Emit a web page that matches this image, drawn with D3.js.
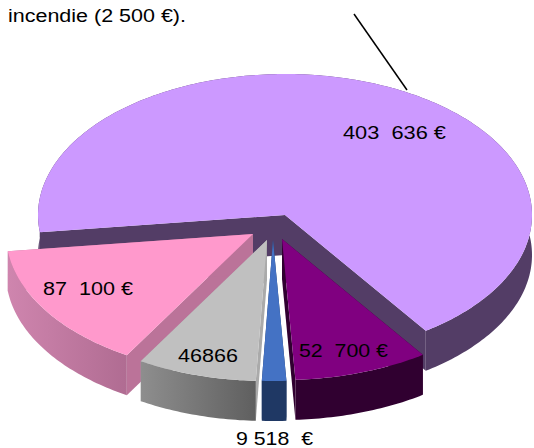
<!DOCTYPE html>
<html>
<head>
<meta charset="utf-8">
<script src="https://cdn.jsdelivr.net/npm/d3@7"></script>
<style>
  html, body { margin: 0; padding: 0; background: #fff; }
  svg { display: block; }
  text { font-family: "Liberation Sans", Arial, sans-serif; fill: #000; white-space: pre; }
</style>
</head>
<body>
<svg id="chart" width="534" height="448"></svg>
<script>
// values, same order as going round the pie
const sliceNames = ['main', 'purple', 'blue', 'grey', 'pink'];
const sliceValues = [403636, 52700, 9518, 46866, 87100];
const sliceLabels = ['403  636 €', '52  700 €', '9 518  €', '46866', '87  100 €'];
const captionLines = ['incendie (2 500 €).'];

const topColors = ['#cc99ff', '#800080', '#4472c4', '#c0c0c0', '#ff99cc'];
const cutColors = ['#533d66', '#300030', '#1f3864', '#aaaaaa', '#bb7399'];
const wallFrom = ['#533d66', '#300030', '#1f3864', '#8e8e8e', '#cf85ae'];
const wallTo = ['#533d66', '#300030', '#1f3864', '#5f5f5f', '#b06c92'];

// where each slice's tip sits once exploded, and where its label goes
const tips = [[285, 215], [282, 239], [273, 240], [267, 240], [253, 234]];
const labelAt = [[343, 139], [299, 357], [236, 445], [178, 362], [43, 295]];
const labelWidth = [103, 89, 77, 60, 90];

// back to front
const drawOrder = [0, 4, 1, 2, 3];

const rx = 247, ry = 141, depth = 40;
const startAngle = 173 * Math.PI / 180;

const svg = d3.select('#chart');
const defs = svg.append('defs');

// pie runs clockwise on screen from the left edge of the big slice
const arcs = d3.pie().sort(null).startAngle(startAngle).endAngle(startAngle + 2 * Math.PI)(sliceValues);

const line = d3.line();

drawOrder.forEach(i => {
	const d = arcs[i];
	const tip = tips[i];
	const rim = a => [tip[0] + rx * Math.cos(a), tip[1] + ry * Math.sin(a)];
	const steps = Math.max(2, Math.ceil((d.endAngle - d.startAngle) * 60));
	const angles = d3.range(steps + 1).map(k => d.startAngle + (d.endAngle - d.startAngle) * k / steps);
	const outer = angles.map(rim);
	const down = p => [p[0], p[1] + depth];

	const g = svg.append('g').attr('class', 'slice slice-' + sliceNames[i]);

	defs.append('linearGradient')
		.attr('id', 'wall-' + i)
		.attr('gradientUnits', 'userSpaceOnUse')
		.attr('x1', d3.min(outer, p => p[0])).attr('x2', d3.max(outer, p => p[0]))
		.attr('y1', 0).attr('y2', 0)
		.selectAll('stop')
		.data([wallFrom[i], wallTo[i]])
		.enter().append('stop')
		.attr('offset', (c, k) => k)
		.attr('stop-color', c => c);

	// the two cut faces
	[outer[0], outer[outer.length - 1]].forEach(p => {
		g.append('path')
			.attr('d', line([tip, p, down(p), down(tip)]) + 'Z')
			.attr('fill', cutColors[i]);
	});

	// outer wall
	g.append('path')
		.attr('d', line(outer.concat(outer.map(down).reverse())) + 'Z')
		.attr('fill', 'url(#wall-' + i + ')');

	// top
	g.append('path')
		.attr('d', line([tip].concat(outer)) + 'Z')
		.attr('fill', topColors[i]);
});

// labels after all slices so nothing covers them
svg.selectAll('text.value')
	.data(sliceLabels)
	.enter().append('text')
	.attr('class', 'value')
	.attr('x', (d, i) => labelAt[i][0])
	.attr('y', (d, i) => labelAt[i][1])
	.attr('textLength', (d, i) => labelWidth[i])
	.attr('lengthAdjust', 'spacingAndGlyphs')
	.style('font-size', '19px')
	.text(d => d);

svg.selectAll('text.caption')
	.data(captionLines)
	.enter().append('text')
	.attr('class', 'caption')
	.attr('x', 8)
	.attr('y', 22)
	.attr('textLength', 178)
	.attr('lengthAdjust', 'spacingAndGlyphs')
	.style('font-size', '18px')
	.text(d => d);

// leader from the caption to the big slice
svg.append('line')
	.attr('x1', 354).attr('y1', 14)
	.attr('x2', 407).attr('y2', 90)
	.attr('stroke', '#000')
	.attr('stroke-width', 1.5);
</script>
</body>
</html>
